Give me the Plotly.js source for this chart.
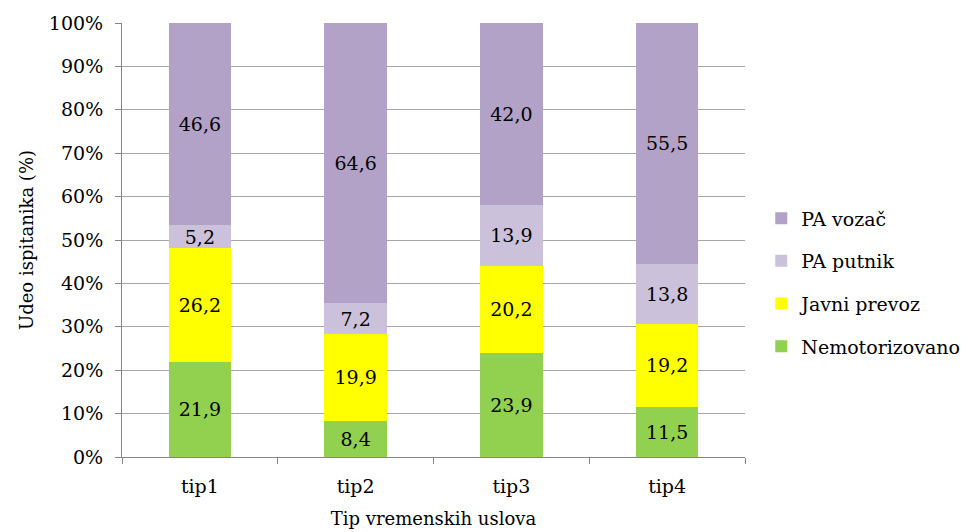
<!DOCTYPE html>
<html>
<head>
<meta charset="utf-8">
<script src="https://cdn.plot.ly/plotly-3.0.1.min.js"></script>
<style>html,body{margin:0;padding:0;background:#fff;}#chart{width:971px;height:532px;}</style>
</head>
<body>
<div id="chart"></div>
<script>
const categories = ["tip1", "tip2", "tip3", "tip4"];
const seriesNames = ["Nemotorizovano", "Javni prevoz", "PA putnik", "PA vozač"];
const nemotorizovano = [21.9, 8.4, 23.9, 11.5];
const javniPrevoz = [26.2, 19.9, 20.2, 19.2];
const paPutnik = [5.2, 7.2, 13.9, 13.8];
const paVozac = [46.6, 64.6, 42.0, 55.5];
const yTickVals = [0, 10, 20, 30, 40, 50, 60, 70, 80, 90, 100];
const yTickText = ["0%", "10%", "20%", "30%", "40%", "50%", "60%", "70%", "80%", "90%", "100%"];

const colors = ["#92D050", "#FFFF00", "#CCC1DA", "#B3A2C7"];
const seriesValues = [nemotorizovano, javniPrevoz, paPutnik, paVozac];
const FONT = "DejaVu Serif, Liberation Serif, serif";

const fmt = v => v.toFixed(1).replace(".", ",");

const traces = seriesValues.map((vals, i) => ({
  type: "bar",
  name: seriesNames[i],
  legendgroup: "g" + i,
  legendrank: 1000 - i,
  x: categories,
  y: vals,
  text: vals.map(fmt),
  textposition: "inside",
  insidetextanchor: "middle",
  textangle: 0,
  textfont: {family: FONT, size: 19, color: "#000"},
  hoverinfo: "none",
  marker: {color: colors[i], line: {width: 0}}
}));

const layout = {
  width: 971,
  height: 532,
  margin: {l: 122, r: 226, t: 21, b: 75},
  paper_bgcolor: "#fff",
  plot_bgcolor: "#fff",
  barmode: "stack",
  barnorm: "percent",
  bargap: 0.6,
  font: {family: FONT, size: 19, color: "#000"},
  uniformtext: {minsize: 19, mode: "show"},
  xaxis: {
    title: {text: "Tip vremenskih uslova", font: {family: FONT, size: 18}, standoff: 16},
    tickfont: {family: FONT, size: 19},
    ticklabelstandoff: 12,
    showline: true,
    linecolor: "#868686",
    linewidth: 1,
    ticks: "outside",
    tickson: "boundaries",
    ticklen: 6,
    tickcolor: "#868686",
    showgrid: false,
    zeroline: false
  },
  yaxis: {
    title: {text: "Udeo ispitanika (%)", font: {family: FONT, size: 18}, standoff: 10},
    automargin: true,
    range: [0, 100],
    tickvals: yTickVals,
    ticktext: yTickText,
    tickfont: {family: FONT, size: 19},
    ticklabelstandoff: 8,
    showline: true,
    linecolor: "#868686",
    linewidth: 1,
    ticks: "outside",
    ticklen: 6,
    tickcolor: "#868686",
    showgrid: true,
    gridcolor: "#A6A6A6",
    gridwidth: 1,
    zeroline: false
  },
  legend: {
    xref: "container",
    x: 0.784,
    xanchor: "left",
    y: 0.4025,
    yanchor: "middle",
    traceorder: "grouped",
    tracegroupgap: 15,
    font: {family: FONT, size: 19, color: "#000"}
  },
  showlegend: true
};

Plotly.newPlot("chart", traces, layout, {displayModeBar: false, staticPlot: true});
</script>
</body>
</html>
